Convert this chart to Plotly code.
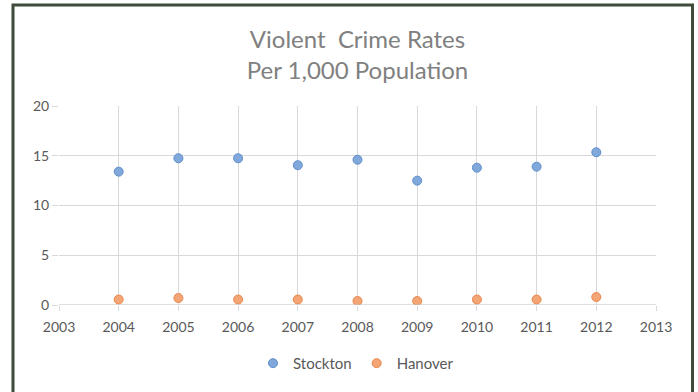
import plotly.graph_objects as go

years = [2004, 2005, 2006, 2007, 2008, 2009, 2010, 2011, 2012]
stockton = [13.4, 14.75, 14.75, 14.05, 14.6, 12.5, 13.8, 13.9, 15.35]
hanover = [0.55, 0.7, 0.55, 0.55, 0.4, 0.4, 0.55, 0.55, 0.8]
x_ticks = list(range(2003, 2014))
y_ticks = [0, 5, 10, 15, 20]

W, H = 698, 392
L, R, T, B = 59, 42, 106, 85
pw, ph = W - L - R, H - T - B

def px(x):
    return (x - L) / pw

def py(y):
    return (H - B - y) / ph

fig = go.Figure()
fig.add_trace(go.Scatter(x=years, y=stockton, mode="markers", name="Stockton",
                         marker=dict(size=9, color="#80a8da", line=dict(color="#5f8fcc", width=1))))
fig.add_trace(go.Scatter(x=years, y=hanover, mode="markers", name="Hanover",
                         marker=dict(size=9, color="#f4a575", line=dict(color="#ea874b", width=1))))

font_family = "Lato, 'Open Sans', sans-serif"
fig.update_layout(
    width=W, height=H,
    margin=dict(l=L, r=R, t=T, b=B),
    paper_bgcolor="white", plot_bgcolor="white",
    font=dict(family=font_family, color="#595959", size=14),
    title=dict(text="Violent  Crime Rates<br>Per 1,000 Population", x=(L + pw / 2) / W, xanchor="center",
               y=1 - 48 / H, yanchor="middle",
               font=dict(size=24, color="#808080", family=font_family)),
    showlegend=True,
    legend=dict(orientation="h", x=px(356), xanchor="center", y=py(366), yanchor="middle",
                font=dict(size=15, color="#595959"), itemwidth=30, tracegroupgap=0,
                bgcolor="rgba(0,0,0,0)"),
    xaxis=dict(range=[2003, 2013], tickvals=x_ticks, ticktext=[str(v) for v in x_ticks],
               showgrid=True, gridcolor="#d9d9d9", gridwidth=1, zeroline=False,
               showline=False, ticks="outside", ticklen=5, tickcolor="#d9d9d9",
               ticklabelstandoff=4,
               tickfont=dict(size=14, color="#595959"), fixedrange=True),
    yaxis=dict(range=[0, 20], tickvals=y_ticks, showgrid=True, gridcolor="#d9d9d9", gridwidth=1,
               zeroline=False, showline=False, ticks="outside", ticklen=6, tickcolor="#d9d9d9",
               tickfont=dict(size=14, color="#595959"), fixedrange=True),
)

# bottom axis line at 0
fig.add_shape(type="line", xref="paper", yref="y", x0=0, x1=1, y0=0, y1=0,
              line=dict(color="#bfbfbf", width=1))

# outer frame (open at the bottom)
frame_color = "#3f4b3b"
fig.add_shape(type="path", xref="paper", yref="paper",
              path=f"M {px(13)} {py(400)} L {px(13)} {py(4)} L {px(692.5)} {py(4)} L {px(692.5)} {py(400)}",
              line=dict(color=frame_color, width=3), layer="above")

fig.write_html("out.html")
